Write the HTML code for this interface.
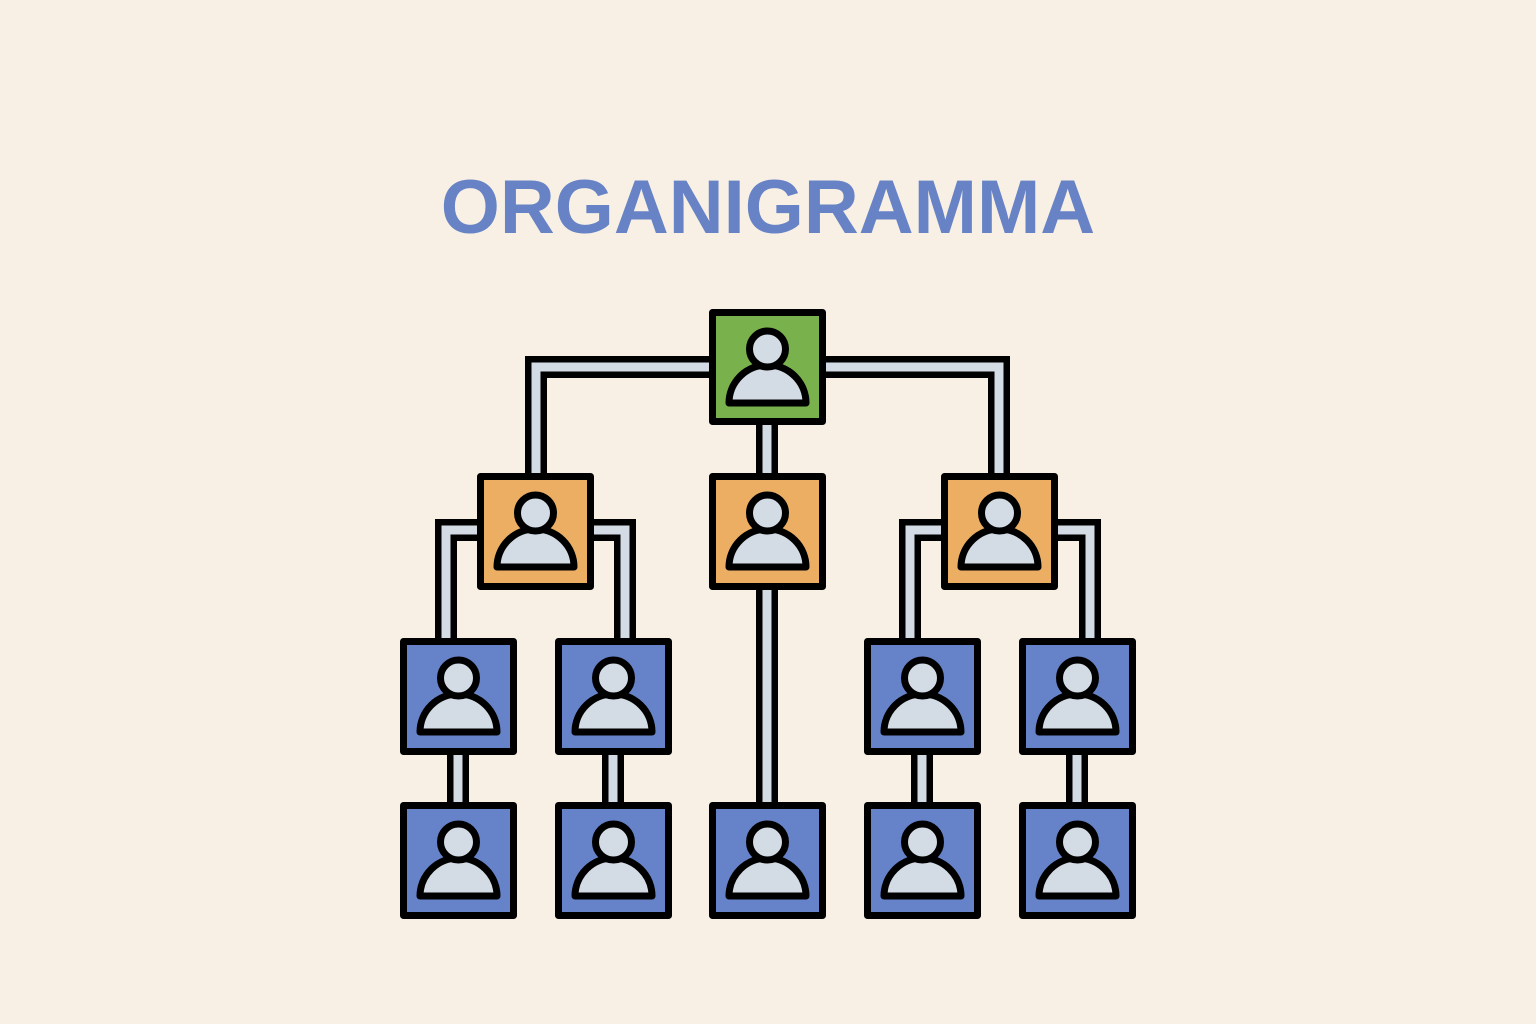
<!DOCTYPE html>
<html><head><meta charset="utf-8"><style>
html,body{margin:0;padding:0;background:#f8f0e5;}
svg{display:block}
</style></head><body>
<svg width="1536" height="1024" viewBox="0 0 1536 1024" xmlns="http://www.w3.org/2000/svg">
<rect width="1536" height="1024" fill="#f8f0e5"/>
<text x="768" y="233" text-anchor="middle" font-family="Liberation Sans, sans-serif" font-weight="bold" font-size="76" fill="#6783c6">ORGANIGRAMMA</text>
<defs>
<g id="pipes">
<path d="M709 367 H536 V473"/>
<path d="M826 367 H999 V473"/>
<path d="M767 425 V473"/>
<path d="M477 530 H446 V638"/>
<path d="M594 530 H625 V638"/>
<path d="M767 590 V802"/>
<path d="M941 530 H910 V638"/>
<path d="M1058 530 H1090 V638"/>
<path d="M458 755 V802"/>
<path d="M613 755 V802"/>
<path d="M922 755 V802"/>
<path d="M1077 755 V802"/>
</g>
<g id="p">
<path d="M20 94 A38.5 38 0 0 1 97 94 Z" fill="#d3dbe5" stroke="#000" stroke-width="7" stroke-linejoin="round"/>
<circle cx="58.5" cy="40" r="18" fill="#d3dbe5" stroke="#000" stroke-width="7"/>
</g>
</defs>
<g fill="none" stroke="#000" stroke-width="22" stroke-linejoin="miter"><use href="#pipes"/></g>
<g fill="none" stroke="#d3dbe5" stroke-width="9" stroke-linejoin="miter"><use href="#pipes"/></g>
<g stroke="#000" stroke-width="7" stroke-linejoin="round">
<rect x="712.5" y="312.5" width="110" height="109" fill="#79b14d"/>
<rect x="480.5" y="476.5" width="110" height="110" fill="#ecae62"/>
<rect x="712.5" y="476.5" width="110" height="110" fill="#ecae62"/>
<rect x="944.5" y="476.5" width="110" height="110" fill="#ecae62"/>
<rect x="403.5" y="641.5" width="110" height="110" fill="#6682c8"/>
<rect x="558.5" y="641.5" width="110" height="110" fill="#6682c8"/>
<rect x="867.5" y="641.5" width="110" height="110" fill="#6682c8"/>
<rect x="1022.5" y="641.5" width="110" height="110" fill="#6682c8"/>
<rect x="403.5" y="805.5" width="110" height="110" fill="#6682c8"/>
<rect x="558.5" y="805.5" width="110" height="110" fill="#6682c8"/>
<rect x="712.5" y="805.5" width="110" height="110" fill="#6682c8"/>
<rect x="867.5" y="805.5" width="110" height="110" fill="#6682c8"/>
<rect x="1022.5" y="805.5" width="110" height="110" fill="#6682c8"/>
</g>
<use href="#p" x="709" y="309"/>
<use href="#p" x="477" y="473"/>
<use href="#p" x="709" y="473"/>
<use href="#p" x="941" y="473"/>
<use href="#p" x="400" y="638"/>
<use href="#p" x="555" y="638"/>
<use href="#p" x="864" y="638"/>
<use href="#p" x="1019" y="638"/>
<use href="#p" x="400" y="802"/>
<use href="#p" x="555" y="802"/>
<use href="#p" x="709" y="802"/>
<use href="#p" x="864" y="802"/>
<use href="#p" x="1019" y="802"/>
</svg>
</body></html>
